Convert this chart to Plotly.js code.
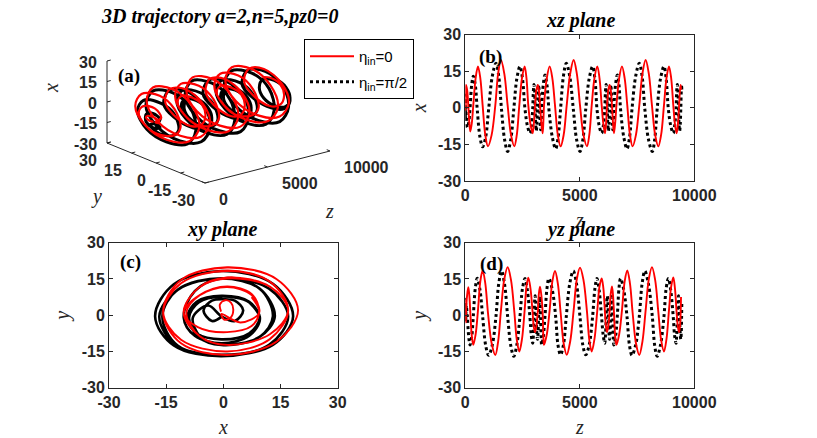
<!DOCTYPE html>
<html>
<head>
<meta charset="utf-8">
<script src="https://cdn.plot.ly/plotly-3.0.1.min.js"></script>
<style>html,body{margin:0;padding:0;background:#fff;}#chart{width:817px;height:438px;}</style>
</head>
<body>
<div id="chart"></div>
<script>
// ---- Data (trajectory samples: z, x, y) ----
// eta_in = 0 (red)
const zRed = [0,3,6,9,12,15,18,21,25,30,80,131,175,220,285,349,451,553,655,757,873,990,1150,1310,1433,1557,1703,1849,1995,2140,2249,2358,2475,2591,2671,2751,2845,2940,2992,3044,3105,3165,3213,3262,3320,3377,3407,3437,
  3560,3683,3800,3917,4040,4163,4295,4428,4580,4731,4870,5009,5160,5313,5415,5520,5640,5764,5860,5956,6030,6099,6145,6190,6245,6300,6350,6405,6450,6492,6545,6600,
  6720,6841,6958,7074,7190,7307,7452,7598,7735,7875,8013,8151,8290,8428,8550,8675,8785,8894,8990,9083,9155,9229,9285,9335,9375,9405,9420];
const xRed = [-0.6,-0.9,0.5,2.0,2.6,1.8,0.2,-0.5,4.5,9.4,7.4,1,-6.2,-9.7,-6.2,1,12.2,17,12.2,1,-11.1,-15.8,-11.1,1,14,19.6,14,1,-11.1,-15.8,-11.1,1,12.2,17,12.2,1,-6.7,-10.4,-6.7,1,7.4,9.4,7.4,1,-6.2,-10.4,-6.2,1,
  12.2,17,12.2,1,-11.1,-15.8,-11.1,1,14,19.6,14,1,-11.1,-15.8,-11.1,1,12.2,17,12.2,1,-6.7,-10.4,-6.7,1,7.4,9.4,7.4,1,-6.2,-10.4,-6.2,1,
  12.2,17,12.2,1,-11.1,-15.8,-11.1,1,14,19.6,14,1,-11.1,-15.8,-11.1,1,12.2,17,12.2,1,-6.7,-10.4,-6.7,1,7.4,9.4,7.4];
const yRed = [1.5,4.5,6.2,5.2,2.0,-1.2,-1.8,0.5,-3,1,8.3,11.6,8.3,1,-8.7,-12.3,-7.9,2,13.9,18.5,13.2,1,-11.6,-16.5,-10.9,2,14.9,19.9,14.6,1.5,-10.2,-15,-9.9,2,11.8,15.5,11.1,1,-4.9,-7,-4.5,1.5,8.8,11.8,8.3,1,-8.7,-12.3,
  -7.9,2,13.9,18.3,13.2,1,-11.6,-16.4,-10.9,2,14.9,19.7,14.6,1.5,-10.2,-15,-9.9,2,11.8,15.2,11.1,1,-4.9,-7,-4.5,1.5,8.8,11.9,8.3,1,-8.7,-12.3,
  -7.9,2,13.9,18.5,13.2,1,-11.6,-16.5,-10.9,2,14.9,19.9,14.6,1.5,-10.2,-15,-9.9,2,11.8,15.6,11.1,1,-4.9,-7,-4.5,1.5,7.5];

// eta_in = pi/2 (black)
const zBlk = [0,3,6,9,12,15,18,21,24,45,90,150,204,280,349,435,520,640,757,890,1019,1180,1339,1460,1580,1715,1849,1985,2118,2250,2387,2497,2607,2715,2824,2883,2943,
  2972,3000,3025,3050,3075,3100,3125,3150,3175,3200,3225,3250,3270,3290,3312,3334,3405,3479,
  3565,3650,3800,3945,4050,4160,4285,4410,4560,4716,4860,5007,5135,5260,5410,5560,5660,5750,5850,5953,6025,6090,
  6120,6150,6175,6200,6225,6250,6275,6300,6325,6350,6375,6400,6420,6440,6462,6485,6560,6637,
  6710,6780,6920,7060,7170,7279,7440,7598,7720,7840,8000,8166,8270,8378,8525,8675,8770,8867,8975,9083,9140,9203,
  9230,9260,9285,9310,9335,9360,9385,9410,9430,9445,9455];
const xBlk = [-0.4,-3,-5.2,-3,0,3,5.2,3,-0.4,-4,-8,-6,-0.5,9.5,13,9.5,-0.5,-12,-16,-12,-0.5,13,18.3,13,-0.5,-13,-17.9,-13,-0.5,12,17,12,-0.5,-7.5,-10.4,-7.5,-0.5,
  6.8,9.6,6.8,-0.5,-7,-9.5,-7,-0.5,6.8,9.5,6.8,-0.5,-6.5,-9,-6.5,-0.5,9.5,13.5,
  9.5,-0.5,-12,-16.8,-12.3,-0.5,13,18.3,13,-0.5,-13,-17.9,-13,-0.5,12,17,12,-0.5,-7.5,-10.4,-7.5,-0.5,
  6.8,9.6,6.8,-0.5,-7,-9.5,-7,-0.5,6.8,9.5,6.8,-0.5,-6.5,-9,-6.5,-0.5,9.5,13.5,
  9.5,-0.5,-12,-16.8,-12.3,-0.5,13,18.3,13,-0.5,-13,-17.9,-13,-0.5,12,17,12,-0.5,-7.5,-10.4,-7.5,-0.5,
  6.8,9.6,6.8,-0.5,-7,-9.5,-7,-0.5,6.8,9.5,6.8];
const yBlk = [-0.6,-2.4,2,6,6.6,6,2,-2.4,-0.6,4,-1,-9,-12.3,-9,-0.5,11,15.3,10.5,-0.5,-12.5,-16.6,-12.3,-0.5,13,18.3,12.8,-0.5,-12.5,-17,-12.3,-0.5,11,15.2,10,-1,-8.5,-11.6,
  -8.5,-1.5,5.5,8,5.5,-1,-7.5,-10,-7.5,-1,5.3,7.7,5.3,-1,-9,-12.3,-9,-0.5,
  11,15.2,10.5,-0.5,-12.5,-16.4,-12.3,-0.5,13,18.3,12.8,-0.5,-12.5,-16.4,-12.3,-0.5,11,15.2,10,-1,-8.5,-11.6,
  -8.5,-1.5,5.5,8,5.5,-1,-7.5,-10,-7.5,-1,5.3,7.7,5.3,-1,-9,-12.3,-9,-0.5,
  11,15.2,10.5,-0.5,-12.5,-16.6,-12.3,-0.5,13,18.3,12.8,-0.5,-12.5,-17,-12.3,-0.5,11,15.2,10,-1,-8.5,-11.6,
  -8.5,-1.5,5.5,8,5.5,-1,-7.5,-10,-7.5,-1,5.3];

const legendNames = ['η<sub>in</sub>=0', 'η<sub>in</sub>=π/2'];
const zTicks = [0, 5000, 10000];
const zTickText = ['0', '5000', '10000'];
const xyTicks = [-30, -15, 0, 15, 30];
const xyTickText = ['-30', '-15', '0', '15', '30'];

// ---- Styles ----
const RED = '#ff0000', BLK = '#000000', AX = '#262626';
const tickFont = {family: 'Liberation Sans, Arial, sans-serif', size: 16, color: AX, weight: 'bold'};
const labFont = {family: 'Liberation Serif, Times New Roman, serif', size: 20, color: AX};
const titleFont = {family: 'Liberation Serif, Times New Roman, serif', size: 20, color: '#000'};
const panelFont = {family: 'Liberation Serif, Times New Roman, serif', size: 19, color: '#000'};
const redLine = {color: RED, width: 1.9, shape: 'spline'};
const blkLine = {color: BLK, width: 3, dash: 'dot', shape: 'spline'};

// ---- 3D view (orthographic, MATLAB-like) drawn on a pixel-unit helper axis ----
const W = 817, H = 438;
const px = v => v / W, py = v => 1 - v / H;
const VIEW = {ox: 205, oy: 183, ez: [125, -32], ey: [-98, -40], ex: [0, -82]};
const Z3 = [0, 10000], R3 = [-30, 30];
function proj(z, y, x) {
  const u = (z - Z3[0]) / (Z3[1] - Z3[0]);
  const v = (y - R3[0]) / (R3[1] - R3[0]);
  const w = (x - R3[0]) / (R3[1] - R3[0]);
  return [VIEW.ox + u * VIEW.ez[0] + v * VIEW.ey[0] + w * VIEW.ex[0],
          VIEW.oy + u * VIEW.ez[1] + v * VIEW.ey[1] + w * VIEW.ex[1]];
}
function projTrace(zs, ys, xs) {
  const P = zs.map((z, i) => proj(z, ys[i], xs[i]));
  return {x: P.map(p => p[0]), y: P.map(p => p[1])};
}
const pR = projTrace(zRed, yRed, xRed);
const pB = projTrace(zBlk, yBlk, xBlk);

// 3D axis lines: vertical x axis (y=30,z=0), y axis (z=0,x=-30), z axis (y=-30,x=-30)
const axSeg = [
  [proj(Z3[0], R3[1], R3[0]), proj(Z3[0], R3[1], R3[1])],
  [proj(Z3[0], R3[0], R3[0]), proj(Z3[0], R3[1], R3[0])],
  [proj(Z3[0], R3[0], R3[0]), proj(Z3[1], R3[0], R3[0])]
];
const axX = [], axY = [];
axSeg.forEach(s => { axX.push(s[0][0], s[1][0], null); axY.push(s[0][1], s[1][1], null); });
// small tick marks
const tkX = [], tkY = [];
xyTicks.forEach(t => { const a = proj(Z3[0], R3[1], t), b = proj(Z3[0] + 300, R3[1], t); tkX.push(a[0], b[0], null); tkY.push(a[1], b[1], null); });
xyTicks.forEach(t => { const a = proj(Z3[0], t, R3[0]), b = proj(Z3[0] + 300, t, R3[0]); tkX.push(a[0], b[0], null); tkY.push(a[1], b[1], null); });
zTicks.forEach(t => { const a = proj(t, R3[0], R3[0]), b = proj(t, R3[0] + 2, R3[0]); tkX.push(a[0], b[0], null); tkY.push(a[1], b[1], null); });

const traces = [
  // 3D (projected)
  {type: 'scatter', mode: 'lines', x: axX, y: axY, line: {color: AX, width: 1}, xaxis: 'x4', yaxis: 'y4', showlegend: false, hoverinfo: 'skip'},
  {type: 'scatter', mode: 'lines', x: tkX, y: tkY, line: {color: AX, width: 1}, xaxis: 'x4', yaxis: 'y4', showlegend: false, hoverinfo: 'skip'},
  {type: 'scatter', mode: 'lines', x: pB.x, y: pB.y, line: {color: BLK, width: 3, shape: 'spline'}, xaxis: 'x4', yaxis: 'y4', showlegend: false, hoverinfo: 'skip'},
  {type: 'scatter', mode: 'lines', x: pR.x, y: pR.y, line: {color: RED, width: 2.2, shape: 'spline'}, xaxis: 'x4', yaxis: 'y4', showlegend: false, hoverinfo: 'skip'},
  // xz
  {type: 'scatter', mode: 'lines', x: zBlk, y: xBlk, line: blkLine, xaxis: 'x', yaxis: 'y', name: legendNames[1], legendgroup: 'b', legendrank: 2, hoverinfo: 'skip'},
  {type: 'scatter', mode: 'lines', x: zRed, y: xRed, line: redLine, xaxis: 'x', yaxis: 'y', name: legendNames[0], legendgroup: 'a', legendrank: 1, hoverinfo: 'skip'},
  // xy
  {type: 'scatter', mode: 'lines', x: xBlk, y: yBlk, line: {color: BLK, width: 2.6, shape: 'spline'}, xaxis: 'x2', yaxis: 'y2', showlegend: false, hoverinfo: 'skip'},
  {type: 'scatter', mode: 'lines', x: xRed, y: yRed, line: redLine, xaxis: 'x2', yaxis: 'y2', showlegend: false, hoverinfo: 'skip'},
  // yz
  {type: 'scatter', mode: 'lines', x: zBlk, y: yBlk, line: blkLine, xaxis: 'x3', yaxis: 'y3', showlegend: false, hoverinfo: 'skip'},
  {type: 'scatter', mode: 'lines', x: zRed, y: yRed, line: redLine, xaxis: 'x3', yaxis: 'y3', showlegend: false, hoverinfo: 'skip'}
];

function ax2(extra) {
  return Object.assign({
    showline: true, mirror: 'ticks', ticks: 'inside', ticklen: 4, tickwidth: 1,
    tickcolor: AX, linecolor: AX, linewidth: 1, showgrid: false, zeroline: false,
    tickfont: tickFont, fixedrange: true
  }, extra);
}

const ann = [];
function addText(text, x, y, font, xanchor, yanchor, ref, angle) {
  ann.push({text: text, x: x, y: y, xref: ref ? 'x4' : 'paper', yref: ref ? 'y4' : 'paper', showarrow: false,
    font: font, xanchor: xanchor || 'center', yanchor: yanchor || 'middle', textangle: angle || 0});
}
addText('<b><i>3D trajectory a=2,n=5,pz0=0</i></b>', px(219), py(17), titleFont);
addText('<b><i>xz plane</i></b>', px(580), py(20), titleFont);
addText('<b><i>xy plane</i></b>', px(222), py(229), titleFont);
addText('<b><i>yz plane</i></b>', px(580), py(229), titleFont);
addText('<b>(a)</b>', px(129), py(76), panelFont);
addText('<b>(b)</b>', px(490), py(57), panelFont);
addText('<b>(c)</b>', px(130), py(262), panelFont);
addText('<b>(d)</b>', px(491), py(264), panelFont);
// 3D tick labels
const tf3 = Object.assign({}, tickFont, {size: 16});
xyTicks.forEach((t, i) => { const p = proj(Z3[0], R3[1], t); addText('<b>' + xyTickText[i] + '</b>', p[0] - 8, p[1] + 1, tf3, 'right', 'middle', true); });
xyTicks.forEach((t, i) => { const p = proj(Z3[0], t, R3[0]); addText('<b>' + xyTickText[i] + '</b>', p[0] - 8, p[1] + 17, tf3, 'right', 'middle', true); });
zTicks.forEach((t, i) => { const p = proj(t, R3[0], R3[0]); addText('<b>' + zTickText[i] + '</b>', p[0] + 12, p[1] + 16, tf3, 'left', 'middle', true); });
// 3D axis labels
addText('<i>x</i>', 51, 88, labFont, 'center', 'middle', true, -90);
addText('<i>y</i>', 96, 196, labFont, 'center', 'middle', true);
addText('<i>z</i>', 329, 211, labFont, 'center', 'middle', true);

const layout = {
  width: W, height: H, margin: {l: 0, r: 0, t: 0, b: 0},
  paper_bgcolor: '#fff', plot_bgcolor: '#fff',
  showlegend: true,
  legend: {x: px(304), y: py(39), xanchor: 'left', yanchor: 'top', bordercolor: '#000', borderwidth: 1, bgcolor: '#fff',
    font: {family: 'Liberation Sans, Arial, sans-serif', size: 15, color: '#000'}, traceorder: 'grouped', tracegroupgap: 3,
    itemwidth: 44},
  xaxis: ax2({domain: [px(465.3), px(694.3)], anchor: 'y', range: [0, 10000], tickvals: zTicks, ticktext: zTickText,
    title: {text: '<i>z</i>', font: labFont, standoff: 9}}),
  yaxis: ax2({domain: [py(181), py(34.7)], anchor: 'x', range: [-30, 30], tickvals: xyTicks, ticktext: xyTickText,
    title: {text: '<i>x</i>', font: labFont, standoff: 5}}),
  xaxis2: ax2({domain: [px(109), px(337.7)], anchor: 'y2', range: [-30, 30], tickvals: xyTicks, ticktext: xyTickText,
    title: {text: '<i>x</i>', font: labFont, standoff: 17}}),
  yaxis2: ax2({domain: [py(387.7), py(242.7)], anchor: 'x2', range: [-30, 30], tickvals: xyTicks, ticktext: xyTickText,
    title: {text: '<i>y</i>', font: labFont, standoff: 6}}),
  xaxis3: ax2({domain: [px(465.3), px(694.3)], anchor: 'y3', range: [0, 10000], tickvals: zTicks, ticktext: zTickText,
    title: {text: '<i>z</i>', font: labFont, standoff: 17}}),
  yaxis3: ax2({domain: [py(387.7), py(242.7)], anchor: 'x3', range: [-30, 30], tickvals: xyTicks, ticktext: xyTickText,
    title: {text: '<i>y</i>', font: labFont, standoff: 5}}),
  xaxis4: {domain: [0, px(420)], range: [0, 420], visible: false, fixedrange: true, anchor: 'y4'},
  yaxis4: {domain: [py(230), 1], range: [230, 0], visible: false, fixedrange: true, anchor: 'x4'},
  annotations: ann
};

Plotly.newPlot('chart', traces, layout, {staticPlot: true, displayModeBar: false});
</script>
</body>
</html>
